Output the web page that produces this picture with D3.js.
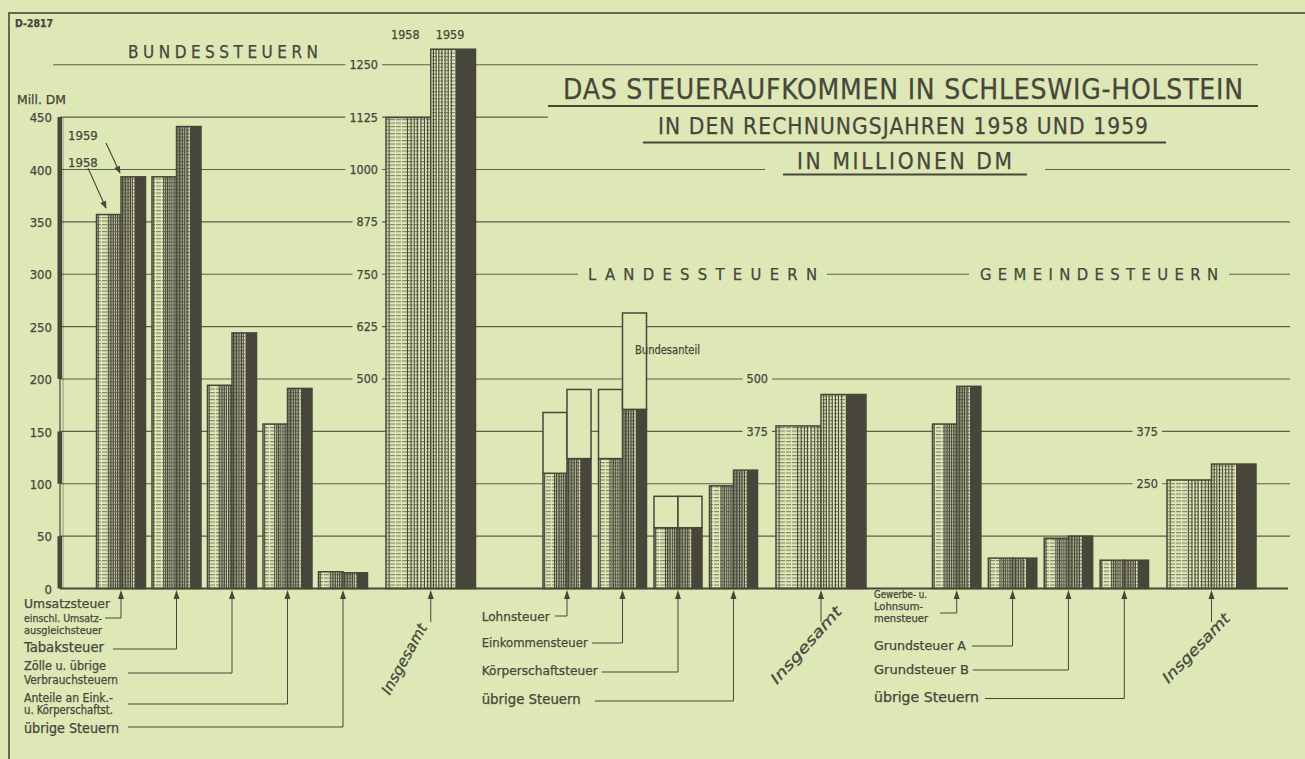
<!DOCTYPE html>
<html>
<head>
<meta charset="utf-8">
<script src="https://cdn.jsdelivr.net/npm/d3@7"></script>
<style>
  body { margin: 0; background: #dde8b6; }
  svg { display: block; }
  text { font-family: "DejaVu Sans Condensed", "DejaVu Sans", sans-serif; font-stretch: condensed; fill: #48463b; stroke: #48463b; stroke-width: 0.25px; }
</style>
</head>
<body>
<div id="chart"></div>
<script>
//wrap everything in a self-executing function
(function(){

  //data (Mill. DM)
  var years = ["1958", "1959"];

  var bundCats = ["Umsatzsteuer", "Tabaksteuer", "Zölle", "Anteile", "übrige"];
  var bund1958 = [357, 393, 194, 157, 16];
  var bund1959 = [393, 441, 244, 191, 15];
  var bundTotal = [1124, 1287];

  var landCats = ["Lohnsteuer", "Einkommensteuer", "Körperschaftsteuer", "übrige"];
  var land1958 = [110, 124, 58, 98];
  var land1959 = [124, 171, 58, 113];
  var bundesanteil1958 = [58, 66, 30, 0];
  var bundesanteil1959 = [66, 92, 30, 0];
  var landTotal = [388, 463];

  var gemCats = ["Gewerbe", "Grundsteuer A", "Grundsteuer B", "übrige"];
  var gem1958 = [157, 29, 48, 27];
  var gem1959 = [193, 29, 50, 27];
  var gemTotal = [259, 297];

  var leftTicks = [0, 50, 100, 150, 200, 250, 300, 350, 400, 450];
  var midTicks = [500, 625, 750, 875, 1000, 1125, 1250];
  var landTicks = [375, 500];
  var gemTicks = [250, 375];
  var gridValues = [125, 250, 375, 500, 625, 750, 875, 1000, 1125, 1250];

  var bg = "#dde8b6", ink = "#48463b";
  var width = 1305, height = 759;

  var svg = d3.select("#chart").append("svg")
      .attr("width", width)
      .attr("height", height);

  svg.append("rect").attr("width", width).attr("height", height).attr("fill", bg);

  //scales: left scale for single taxes, right scale (x2.5) for totals
  var yLeft = d3.scaleLinear().domain([0, 450]).range([588.5, 117.1]);
  var yRight = d3.scaleLinear().domain([0, 1250]).range([588.5, 64.7]);

  var xBund = d3.scaleBand().domain(bundCats).range([96.5, 367.5]).paddingInner(0.117);
  var xLand = d3.scaleBand().domain(landCats).range([543, 757.5]).paddingInner(0.135);
  var xGem = d3.scaleBand().domain(gemCats).range([932.5, 1148.5]).paddingInner(0.134);
  var xBundTot = d3.scaleBand().domain(years).range([386, 475.5]);
  var xLandTot = d3.scaleBand().domain(years).range([776, 866]);
  var xGemTot = d3.scaleBand().domain(years).range([1167, 1256]);

  //patterns
  var defs = svg.append("defs");
  var pat = defs.append("pattern").attr("id", "hdash")
      .attr("patternUnits", "userSpaceOnUse").attr("width", 6).attr("height", 3.5);
  pat.append("rect").attr("width", 6).attr("height", 3.5).attr("fill", bg);
  pat.append("line").attr("x1", 0).attr("x2", 5).attr("y1", 0.6).attr("y2", 0.6)
      .attr("stroke", ink).attr("stroke-width", 1).attr("opacity", 0.7);

  defs.append("marker").attr("id", "arr").attr("viewBox", "0 0 10 10")
      .attr("refX", 9).attr("refY", 5).attr("markerWidth", 7).attr("markerHeight", 7)
      .attr("orient", "auto")
      .append("path").attr("d", "M0,1 L10,5 L0,9 Z").attr("fill", ink);

  //frame
  svg.append("rect").attr("x", 9).attr("y", 13).attr("width", 1400).attr("height", 800)
      .attr("fill", "none").attr("stroke", ink).attr("stroke-width", 1.6);

  //gridlines
  var grid = svg.append("g").attr("class", "grid");
  grid.selectAll("line").data(gridValues).enter().append("line")
      .attr("x1", function(d){ return d == 1250 ? 53 : 60; })
      .attr("x2", function(d){ return d == 1250 ? 1258 : 1290; })
      .attr("y1", function(d){ return yRight(d); })
      .attr("y2", function(d){ return yRight(d); })
      .attr("stroke", ink).attr("stroke-width", 1.1).attr("opacity", 0.85);

  //text helper, with optional background halo to break the gridlines
  function label(g, x, y, str, size, opts){
    opts = opts || {};
    var t = g.append("text").attr("x", x).attr("y", y)
        .attr("text-anchor", opts.anchor || "start")
        .style("font-size", size + "px")
        .text(str);
    if (opts.w) t.attr("textLength", opts.w).attr("lengthAdjust", opts.adjust || "spacingAndGlyphs");
    if (opts.weight) t.style("font-weight", opts.weight);
    if (opts.halo != null){
      var b = t.node().getBBox(), p = opts.halo;
      g.insert("rect", function(){ return t.node(); })
          .attr("x", b.x - p).attr("y", b.y).attr("width", b.width + 2 * p).attr("height", b.height)
          .attr("fill", bg);
    }
    return t;
  }

  var txt = svg.append("g").attr("class", "texts");

  //titles
  label(txt, 15, 27, "D-2817", 10.5, {weight: "bold", w: 38});
  label(txt, 128, 58, "BUNDESSTEUERN", 17, {w: 190, adjust: "spacing"});
  label(txt, 563, 98.5, "DAS STEUERAUFKOMMEN IN SCHLESWIG-HOLSTEIN", 28, {w: 680, adjust: "spacing"});
  txt.append("rect").attr("x", 548).attr("y", 108).attr("width", 760).attr("height", 31).attr("fill", bg);
  label(txt, 658, 133.5, "IN DEN RECHNUNGSJAHREN 1958 UND 1959", 22.5, {w: 490, adjust: "spacing"});
  txt.append("rect").attr("x", 765).attr("y", 146).attr("width", 280).attr("height", 26).attr("fill", bg);
  label(txt, 797, 168.5, "IN MILLIONEN DM", 22.5, {w: 215, adjust: "spacing"});
  [[548, 1258, 106], [643, 1166, 142.5], [783, 1027, 174.5]].forEach(function(u){
    txt.append("line").attr("x1", u[0]).attr("x2", u[1]).attr("y1", u[2]).attr("y2", u[2])
        .attr("stroke", ink).attr("stroke-width", 2);
  });
  label(txt, 588, 280, "LANDESSTEUERN", 16.5, {w: 229, adjust: "spacing", halo: 10});
  label(txt, 980, 280, "GEMEINDESTEUERN", 16.5, {w: 238, adjust: "spacing", halo: 11});
  label(txt, 17, 104, "Mill. DM", 12, {w: 49});

  //left axis
  var axis = svg.append("g").attr("class", "axis").attr("transform", "translate(60,0)")
      .call(d3.axisLeft(yLeft).tickValues(leftTicks).tickSize(0).tickPadding(8)
      .tickFormat(d3.format("d")));
  axis.select(".domain").remove();
  axis.selectAll("text").style("font-size", "13px").style("font-family", null).attr("fill", ink).attr("dy", "0.36em");
  [[200, 450], [100, 150], [0, 50]].forEach(function(s){
    svg.append("rect").attr("x", 57.5).attr("width", 4.5)
        .attr("y", yLeft(s[1])).attr("height", yLeft(s[0]) - yLeft(s[1])).attr("fill", ink);
  });
  svg.append("line").attr("x1", 60).attr("x2", 60).attr("y1", yLeft(450)).attr("y2", yLeft(0))
      .attr("stroke", ink).attr("stroke-width", 1.2);
  svg.append("line").attr("x1", 63).attr("x2", 63).attr("y1", yLeft(450)).attr("y2", yLeft(0))
      .attr("stroke", ink).attr("stroke-width", 0.8).attr("opacity", 0.6);

  //right-scale tick labels
  midTicks.forEach(function(d){ label(txt, 378, yRight(d) + 4.5, d, 12.5, {anchor: "end", halo: 4}); });
  landTicks.forEach(function(d){ label(txt, 768, yRight(d) + 4.5, d, 12.5, {anchor: "end", halo: 4}); });
  gemTicks.forEach(function(d){ label(txt, 1158, yRight(d) + 4.5, d, 12.5, {anchor: "end", halo: 4}); });

  //bars
  var lines58 = [0.07, 0.48, 0.56, 0.63, 0.7, 0.78, 0.86, 0.93];
  var lines59 = [0.06, 0.12, 0.18, 0.25, 0.32, 0.39, 0.46];
  var bars = svg.append("g").attr("class", "bars");

  function drawBar(x0, w, yTop, yBase, year){
    var h = yBase - yTop;
    if (h <= 0) return;
    var b = bars.append("g").attr("class", "bar y" + year);
    b.append("rect").attr("x", x0).attr("y", yTop).attr("width", w).attr("height", h)
        .attr("fill", "url(#hdash)");
    b.selectAll("line").data(year == "1958" ? lines58 : lines59).enter().append("line")
        .attr("x1", function(f){ return x0 + f * w; })
        .attr("x2", function(f){ return x0 + f * w; })
        .attr("y1", yTop).attr("y2", yBase)
        .attr("stroke", ink).attr("stroke-width", 1.1);
    if (year == "1959"){
      b.append("rect").attr("x", x0 + 0.55 * w).attr("y", yTop).attr("width", 0.45 * w).attr("height", h)
          .attr("fill", ink);
    }
    b.append("rect").attr("x", x0).attr("y", yTop).attr("width", w).attr("height", h)
        .attr("fill", "none").attr("stroke", ink).attr("stroke-width", 1.5);
  }

  function drawBox(x0, w, yTop, yBase){
    if (yBase - yTop <= 0) return;
    bars.append("rect").attr("class", "bundesanteil")
        .attr("x", x0).attr("y", yTop).attr("width", w).attr("height", yBase - yTop)
        .attr("fill", bg).attr("stroke", ink).attr("stroke-width", 1.5);
  }

  //pairs of bars for a group
  function drawPairs(cats, xScale, v58, v59, scale){
    var xYear = d3.scaleBand().domain(years).range([0, xScale.bandwidth()]);
    cats.forEach(function(c, i){
      drawBar(xScale(c) + xYear("1958"), xYear.bandwidth(), scale(v58[i]), scale(0), "1958");
      drawBar(xScale(c) + xYear("1959"), xYear.bandwidth(), scale(v59[i]), scale(0), "1959");
    });
    return xYear;
  }

  function drawTotals(xScale, vals){
    years.forEach(function(y, i){
      drawBar(xScale(y), xScale.bandwidth(), yRight(vals[i]), yRight(0), y);
    });
  }

  drawPairs(bundCats, xBund, bund1958, bund1959, yLeft);
  drawTotals(xBundTot, bundTotal);
  var xYearLand = drawPairs(landCats, xLand, land1958, land1959, yLeft);
  landCats.forEach(function(c, i){
    drawBox(xLand(c) + xYearLand("1958"), xYearLand.bandwidth(),
        yLeft(land1958[i] + bundesanteil1958[i]), yLeft(land1958[i]));
    drawBox(xLand(c) + xYearLand("1959"), xYearLand.bandwidth(),
        yLeft(land1959[i] + bundesanteil1959[i]), yLeft(land1959[i]));
  });
  drawTotals(xLandTot, landTotal);
  drawPairs(gemCats, xGem, gem1958, gem1959, yLeft);
  drawTotals(xGemTot, gemTotal);

  //baseline
  svg.append("line").attr("x1", 60).attr("x2", 1288).attr("y1", yLeft(0)).attr("y2", yLeft(0))
      .attr("stroke", ink).attr("stroke-width", 2);

  //year labels
  label(txt, xBundTot("1958") + xBundTot.bandwidth() / 2 - 3, 39, "1958", 12.5, {anchor: "middle"});
  label(txt, xBundTot("1959") + xBundTot.bandwidth() / 2 - 3, 39, "1959", 12.5, {anchor: "middle"});
  label(txt, 68, 140, "1959", 13);
  label(txt, 68, 166.5, "1958", 13);
  svg.append("line").attr("x1", 106).attr("y1", 143).attr("x2", 120).attr("y2", 173)
      .attr("stroke", ink).attr("stroke-width", 1.1).attr("marker-end", "url(#arr)");
  svg.append("line").attr("x1", 88).attr("y1", 168).attr("x2", 106).attr("y2", 208)
      .attr("stroke", ink).attr("stroke-width", 1.1).attr("marker-end", "url(#arr)");
  svg.append("text").attr("x", 635).attr("y", 353.5).style("font-size", "12.5px")
      .attr("textLength", 65).attr("lengthAdjust", "spacingAndGlyphs").text("Bundesanteil");

  //category labels with leader lines and arrows
  var bundLabels = [
    {t: [["Umsatzsteuer", 607.5, 13, 86], ["einschl. Umsatz-", 621.5, 10.8, 78], ["ausgleichsteuer", 633.5, 11, 78]], ly: 618, lx: 105},
    {t: [["Tabaksteuer", 652, 13.5, 80]], ly: 649, lx: 113},
    {t: [["Zölle u. übrige", 670, 12.5, 82], ["Verbrauchsteuern", 683.5, 12.5, 94]], ly: 673, lx: 128},
    {t: [["Anteile an Eink.-", 701.5, 12.5, 89], ["u. Körperschaftst.", 714, 11.5, 89]], ly: 704, lx: 128},
    {t: [["übrige Steuern", 732.5, 13.5, 95]], ly: 727, lx: 128}
  ];
  var landLabels = [
    {t: [["Lohnsteuer", 620.5, 13, 68]], ly: 616, lx: 555},
    {t: [["Einkommensteuer", 646.5, 13, 106]], ly: 643, lx: 592},
    {t: [["Körperschaftsteuer", 675, 13, 116]], ly: 672, lx: 602},
    {t: [["übrige Steuern", 703.5, 13.5, 99]], ly: 701, lx: 595}
  ];
  var gemLabels = [
    {t: [["Gewerbe- u.", 597.5, 10.2, 53], ["Lohnsum-", 609.5, 10.2, 49], ["mensteuer", 621.5, 10.2, 54]], ly: 613, lx: 940},
    {t: [["Grundsteuer A", 650, 13, 92]], ly: 646, lx: 972},
    {t: [["Grundsteuer B", 673.5, 13, 95]], ly: 670, lx: 973},
    {t: [["übrige Steuern", 702, 13.5, 105]], ly: 698.5, lx: 985}
  ];

  var leaders = svg.append("g").attr("class", "leaders");
  function arrow(cx, yEnd, x0){
    var d = "M" + cx + "," + 599 + " V" + yEnd;
    if (x0 != null) d += " H" + x0;
    leaders.append("path").attr("d", d).attr("fill", "none")
        .attr("stroke", ink).attr("stroke-width", 1);
    leaders.append("path").attr("d", "M" + cx + ",590 L" + (cx - 3) + ",599 L" + (cx + 3) + ",599 Z")
        .attr("fill", ink);
  }

  function drawLabels(specs, cats, xScale, tx){
    specs.forEach(function(s, i){
      s.t.forEach(function(l){ label(txt, tx, l[1], l[0], l[2], {w: l[3]}); });
      arrow(xScale(cats[i]) + xScale.bandwidth() / 2, s.ly, s.lx);
    });
  }
  drawLabels(bundLabels, bundCats, xBund, 24);
  drawLabels(landLabels, landCats, xLand, 481.7);
  drawLabels(gemLabels, gemCats, xGem, 874);

  //totals: arrow and rotated label
  [[xBundTot, 404, 659, -61, 78], [xLandTot, 806, 645, -48, 98], [xGemTot, 1196, 648, -46, 90]].forEach(function(s){
    var r = s[0].range();
    arrow((r[0] + r[1]) / 2, 622);
    txt.append("text").attr("transform", "translate(" + s[1] + "," + s[2] + ") rotate(" + s[3] + ")")
        .attr("text-anchor", "middle").attr("dy", "0.35em")
        .style("font-size", "15px").style("font-style", "italic")
        .attr("textLength", s[4]).attr("lengthAdjust", "spacingAndGlyphs")
        .text("Insgesamt");
  });

})();
</script>
</body>
</html>
